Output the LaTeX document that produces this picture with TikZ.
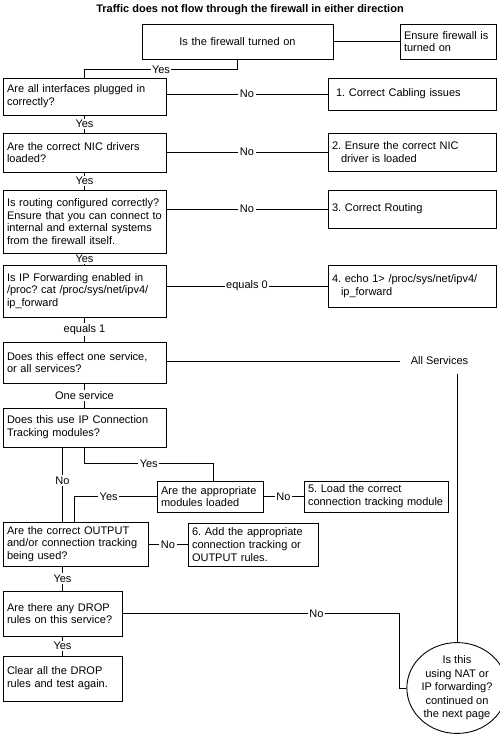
\documentclass[tikz,border=0pt]{standalone}
\usepackage{fontspec}
\setmainfont{Liberation Sans}
\usetikzlibrary{shapes.geometric}
\newcommand\fs{\fontsize{11}{12.8}\selectfont\frenchspacing}
\tikzset{
  box/.style={draw, line width=0.9pt, inner xsep=4pt, inner ysep=0pt, align=left, font=\fs},
  conn/.style={line width=0.8pt},
  lbl/.style={fill=white, inner sep=1.5pt, font=\fs},
}
\begin{document}
\frenchspacing
\begin{tikzpicture}[x=1pt, y=-1pt]
\useasboundingbox (0,0) rectangle (500,739);

\node[font=\bfseries\fs] (title) at (250,9.5) {Traffic does not flow through the firewall in either direction};

\node[box, align=center, minimum width=191pt, minimum height=35pt, text width=183pt] (fw) at (237.5,41.5) {Is the firewall turned on};
\node[box, minimum width=96pt, minimum height=35pt, text width=88pt] (ens) at (448,41.5) {Ensure firewall is\\turned on};

\node[box, minimum width=163pt, minimum height=37pt, text width=155pt] (q1) at (84.5,96.5) {Are all interfaces plugged in\\correctly?};
\node[box, minimum width=168pt, minimum height=32pt, text width=160pt] (a1) at (412,94) {\hspace*{4pt}1. Correct Cabling issues};

\node[box, minimum width=163pt, minimum height=39pt, text width=155pt] (q2) at (84.5,152.5) {Are the correct NIC drivers\\loaded?};
\node[box, minimum width=168pt, minimum height=38pt, text width=160pt] (a2) at (412,152) {2. Ensure the correct NIC\\\hspace*{9pt}driver is loaded};

\node[box, minimum width=163pt, minimum height=63pt, text width=155pt] (q3) at (84.5,221.5) {Is routing configured correctly?\\Ensure that you can connect to\\internal and external systems\\from the firewall itself.};
\node[box, minimum width=168pt, minimum height=38pt, text width=160pt] (a3) at (412,209) {3. Correct Routing};

\node[box, minimum width=163pt, minimum height=52pt, text width=155pt] (q4) at (84.5,291) {Is IP Forwarding enabled in\\/proc? cat /proc/sys/net/ipv4/\\ip\_forward};
\node[box, minimum width=168pt, minimum height=42pt, text width=160pt] (a4) at (412,286) {4. echo 1> /proc/sys/net/ipv4/\\\hspace*{9pt}ip\_forward};

\node[box, minimum width=163pt, minimum height=41pt, text width=155pt] (q5) at (84.5,362.5) {Does this effect one service,\\or all services?};
\node[font=\fs, inner xsep=11pt, inner ysep=9pt] (allsvc) at (439.5,361) {All Services};

\node[box, minimum width=163pt, minimum height=39pt, text width=155pt] (q6) at (84.5,427.5) {Does this use IP Connection\\Tracking modules?};

\node[box, minimum width=106pt, minimum height=31pt, text width=98pt] (q7) at (210,496.5) {Are the appropriate\\modules loaded};
\node[box, minimum width=144pt, minimum height=31pt, text width=136pt] (a5) at (376,496.5) {5. Load the correct\\connection tracking module};

\node[box, minimum width=145pt, minimum height=44pt, text width=137pt] (q8) at (75.5,544) {Are the correct OUTPUT\\and/or connection tracking\\being used?};
\node[box, minimum width=130pt, minimum height=43pt, text width=122pt] (a6) at (253,544.5) {6. Add the appropriate\\connection tracking or\\OUTPUT rules.};

\node[box, minimum width=119pt, minimum height=45pt, text width=111pt] (q9) at (62.5,613.5) {Are there any DROP\\rules on this service?};
\node[box, minimum width=119pt, minimum height=45pt, text width=111pt] (q10) at (62.5,678.5) {Clear all the DROP\\rules and test again.};

\node[draw, ellipse, line width=0.9pt, minimum width=86pt, minimum height=76pt, inner sep=0pt, align=center, font=\fontsize{11}{13.5}\selectfont] (circ) at (457,688) {Is this\\using NAT or\\IP forwarding?\\continued on\\the next page};

% connectors
\draw[conn] (fw.east) -- (ens.west);
\draw[conn] (fw.south) -- ++(0,10) -| node[pos=0.25,lbl]{Yes} (q1.north);
\draw[conn] (q1.east |- a1.west) -- node[lbl]{No} (a1.west);
\draw[conn] (q1) -- node[lbl]{Yes} (q2);
\draw[conn] (q2.east |- a2.west) -- node[lbl]{No} (a2.west);
\draw[conn] (q2) -- node[lbl]{Yes} (q3);
\draw[conn] (q3.east |- a3.west) -- node[lbl]{No} (a3.west);
\draw[conn] (q3) -- node[lbl]{Yes} (q4);
\draw[conn] (q4.east |- a4.west) -- node[lbl]{equals 0} (a4.west);
\draw[conn] (q4) -- node[lbl]{equals 1} (q5);
\draw[conn] (q5.east |- allsvc.west) -- (allsvc.west);
\draw[conn] (circ.north) -- (circ.north |- allsvc.south);
\draw[conn] (q5) -- node[lbl]{One service} (q6);
\draw[conn] (q6.south -| q9.north) -- node[lbl, pos=0.45]{No} (q8.north -| q9.north);
\draw[conn] (q6.south) -- ++(0,16) -| node[pos=0.25,lbl]{Yes} ([xshift=3pt]q7.north);
\draw[conn] (q7) -- node[lbl]{No} (a5);
\draw[conn] (q7.west) -| node[pos=0.29,lbl]{Yes} ([xshift=-1.5pt]q8.north);
\draw[conn] (q8.east |- a6.west) -- node[lbl]{No} (a6.west);
\draw[conn] (q8.south -| q9.north) -- node[lbl]{Yes} (q9.north);
\draw[conn] (q9.east) -- node[pos=0.7,lbl]{No} ++(277,0) |- (circ.west);
\draw[conn] (q9) -- node[lbl]{Yes} (q10);
\end{tikzpicture}
\end{document}
